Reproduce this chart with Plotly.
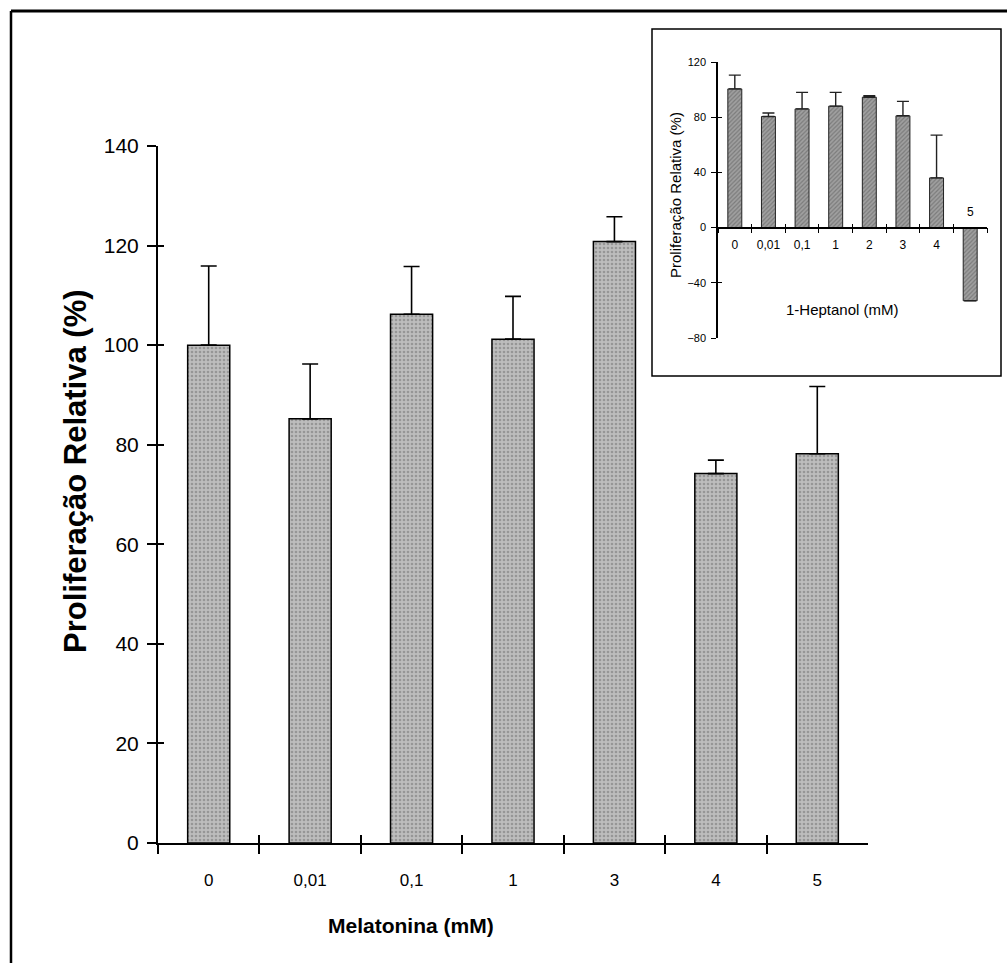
import plotly.graph_objects as go

# ---------------- data ----------------
main_categories = ["0", "0,01", "0,1", "1", "3", "4", "5"]
main_values = [100, 85.2, 106.2, 101.2, 120.8, 74.2, 78.2]
main_errors = [15.9, 11.0, 9.6, 8.6, 5.0, 2.7, 13.5]

inset_categories = ["0", "0,01", "0,1", "1", "2", "3", "4", "5"]
inset_values = [100.5, 80.5, 86.0, 88.0, 94.5, 81.0, 36.0, -53.0]
inset_errors = [10.0, 2.5, 12.0, 10.0, 1.0, 10.5, 31.0, None]

main_yticks = [0, 20, 40, 60, 80, 100, 120, 140]
inset_yticks = [-80, -40, 0, 40, 80, 120]

FONT = "Liberation Sans, Arial, sans-serif"
W, H = 1007, 963

def px_x(p):
    return p / W

def px_y(p):
    return (H - p) / H

# main plot area (pixels)
MX0, MX1, MY0, MY1 = 158, 868, 843, 146
# inset plot area (pixels)
IX0, IX1, IY0, IY1 = 718, 987, 338, 62
IRANGE = [-80, 120]

fig = go.Figure()

# main bars
fig.add_trace(go.Bar(
    x=main_categories, y=main_values,
    xaxis="x", yaxis="y",
    marker=dict(
        color="#b0b0b0",
        line=dict(color="black", width=1.5),
        pattern=dict(shape=".", fgcolor="#707070", bgcolor="#bdbdbd", size=4, solidity=0.35),
    ),
    error_y=dict(type="data", array=main_errors, arrayminus=[0] * len(main_errors),
                 symmetric=False, color="black", thickness=1.6, width=8),
    showlegend=False, hoverinfo="skip",
))

# inside tick helpers for crossing ticks (invisible)
fig.add_trace(go.Scatter(x=main_categories, y=main_values, xaxis="x3", yaxis="y",
                         mode="markers", marker=dict(opacity=0), showlegend=False, hoverinfo="skip"))
fig.add_trace(go.Scatter(x=main_categories, y=main_values, xaxis="x", yaxis="y3",
                         mode="markers", marker=dict(opacity=0), showlegend=False, hoverinfo="skip"))

# inset bars
fig.add_trace(go.Bar(
    x=inset_categories, y=inset_values,
    xaxis="x2", yaxis="y2",
    marker=dict(
        color="#8c8c8c",
        line=dict(color="#222", width=1),
        pattern=dict(shape="/", fgcolor="#555555", bgcolor="#a0a0a0", size=3, solidity=0.4),
    ),
    error_y=dict(type="data", array=inset_errors, arrayminus=[0] * len(inset_errors),
                 symmetric=False, color="#222", thickness=1.4, width=6),
    showlegend=False, hoverinfo="skip",
))
fig.add_trace(go.Scatter(x=inset_categories, y=inset_values, xaxis="x4", yaxis="y2",
                         mode="markers", marker=dict(opacity=0), showlegend=False, hoverinfo="skip"))
fig.add_trace(go.Scatter(x=inset_categories, y=inset_values, xaxis="x2", yaxis="y4",
                         mode="markers", marker=dict(opacity=0), showlegend=False, hoverinfo="skip"))

inset_ticktext = [c if v >= 0 else "" for c, v in zip(inset_categories, inset_values)]
inset_zero_pos = px_y(IY0) + (0 - IRANGE[0]) / (IRANGE[1] - IRANGE[0]) * (px_y(IY1) - px_y(IY0))

axis_common = dict(showgrid=False, zeroline=False, linecolor="black", tickcolor="black")

fig.update_layout(
    width=W, height=H,
    margin=dict(l=0, r=0, t=0, b=0, autoexpand=False),
    paper_bgcolor="white", plot_bgcolor="rgba(0,0,0,0)",
    font=dict(family=FONT, color="black"),
    bargap=0.585,
    xaxis=dict(
        **axis_common,
        domain=[px_x(MX0), px_x(MX1)], anchor="y",
        type="category", range=[-0.5, 6.5], tickson="boundaries",
        ticks="outside", ticklen=9, tickwidth=1.5, linewidth=2,
        tickfont=dict(size=17, family=FONT), showline=True,
        ticklabelstandoff=21,
    ),
    xaxis3=dict(
        showgrid=False, zeroline=False, overlaying="x", anchor="y", side="bottom",
        type="category", range=[-0.5, 6.5], tickson="boundaries",
        ticks="inside", ticklen=8, tickwidth=1.5, tickcolor="black",
        showticklabels=False, showline=False,
    ),
    yaxis=dict(
        **axis_common,
        domain=[px_y(MY0), px_y(MY1)], anchor="x",
        range=[0, 140], tickvals=main_yticks,
        ticks="outside", ticklen=9, tickwidth=1.5, linewidth=2,
        tickfont=dict(size=21, family=FONT), showline=True,
        ticklabelstandoff=4,
    ),
    yaxis3=dict(
        showgrid=False, zeroline=False, overlaying="y", anchor="x", side="left",
        range=[0, 140], tickvals=main_yticks,
        ticks="inside", ticklen=6, tickwidth=1.5, tickcolor="black",
        showticklabels=False, showline=False,
    ),
    xaxis2=dict(
        **axis_common,
        domain=[px_x(IX0), px_x(IX1)], anchor="free", position=inset_zero_pos,
        type="category", range=[-0.5, 7.5], tickson="boundaries",
        tickvals=inset_categories, ticktext=inset_ticktext,
        ticks="outside", ticklen=5, tickwidth=1, linewidth=1.5,
        tickfont=dict(size=12, family=FONT), showline=True,
        ticklabelstandoff=6,
    ),
    xaxis4=dict(
        showgrid=False, zeroline=False, overlaying="x2", anchor="free", position=inset_zero_pos,
        type="category", range=[-0.5, 7.5], tickson="boundaries",
        ticks="inside", ticklen=4, tickwidth=1, tickcolor="black",
        showticklabels=False, showline=False,
    ),
    yaxis2=dict(
        **axis_common,
        domain=[px_y(IY0), px_y(IY1)], anchor="x2",
        range=IRANGE, tickvals=inset_yticks,
        ticks="outside", ticklen=5, tickwidth=1, linewidth=1.5,
        tickfont=dict(size=11, family=FONT), showline=True,
        ticklabelstandoff=3,
    ),
    yaxis4=dict(
        showgrid=False, zeroline=False, overlaying="y2", anchor="x2", side="left",
        range=IRANGE, tickvals=inset_yticks,
        ticks="inside", ticklen=4, tickwidth=1, tickcolor="black",
        showticklabels=False, showline=False,
    ),
)

# page frame (top and left) and inset box
fig.add_shape(type="line", xref="paper", yref="paper",
              x0=px_x(11), x1=1.0, y0=px_y(11), y1=px_y(11), line=dict(color="black", width=3))
fig.add_shape(type="line", xref="paper", yref="paper",
              x0=px_x(11), x1=px_x(11), y0=px_y(11), y1=0.0, line=dict(color="black", width=2.5))
fig.add_shape(type="rect", xref="paper", yref="paper",
              x0=px_x(652), x1=px_x(1001), y0=px_y(376), y1=px_y(29),
              line=dict(color="black", width=1.5), fillcolor="white", layer="below")

ann = dict(xref="paper", yref="paper", showarrow=False, xanchor="center", yanchor="middle")

# axis titles
fig.add_annotation(text="<b>Melatonina (mM)</b>", x=px_x(411), y=px_y(925),
                   font=dict(size=21, family=FONT), **ann)
fig.add_annotation(text="<b>Proliferação Relativa (%)</b>", x=px_x(75), y=px_y(471),
                   textangle=-90, font=dict(size=31, family=FONT), **ann)
fig.add_annotation(text="1-Heptanol (mM)", x=px_x(842), y=px_y(309),
                   font=dict(size=15, family=FONT), **ann)
fig.add_annotation(text="Proliferação Relativa (%)", x=px_x(675), y=px_y(195),
                   textangle=-90, font=dict(size=15, family=FONT), **ann)

# labels for negative inset bars placed above the axis
for i, (c, v) in enumerate(zip(inset_categories, inset_values)):
    if v < 0:
        fig.add_annotation(text=c, x=i, y=0, xref="x2", yref="y2",
                           showarrow=False, yshift=16, font=dict(size=12, family=FONT))

fig.write_html("out.html", config={"displayModeBar": False},
               post_script="document.body.style.margin='0';document.body.style.overflow='hidden';")
